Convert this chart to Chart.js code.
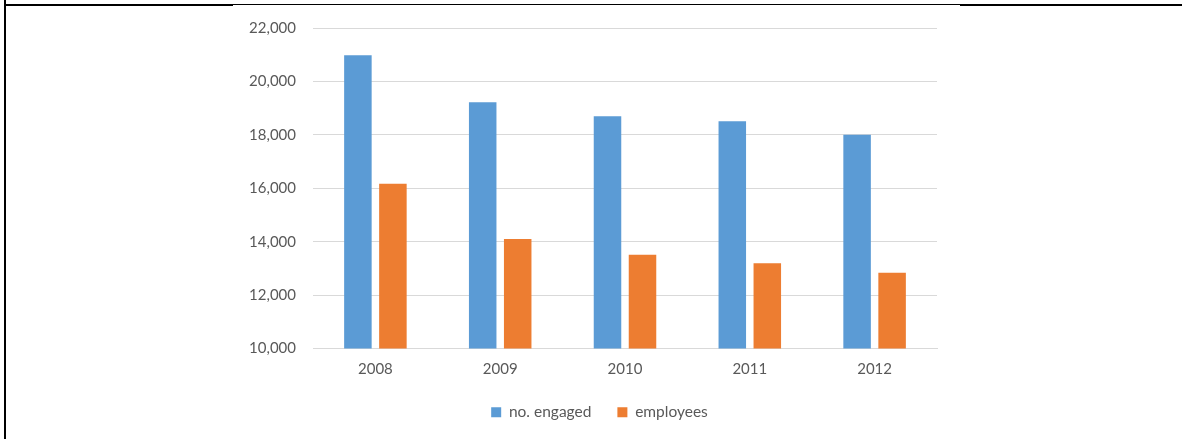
<!DOCTYPE html>
<html>
<head>
<meta charset="utf-8">
<script src="https://cdn.jsdelivr.net/npm/chart.js@4"></script>
<style>
  html, body { margin: 0; padding: 0; background: #fff; }
  #wrap { position: relative; width: 1182px; height: 439px; }
  .rule { position: absolute; background: #000; }
</style>
</head>
<body>
<div id="wrap">
  <canvas id="workChart" width="1182" height="439"></canvas>
  <div class="rule" style="left:4px;top:0;width:2px;height:439px"></div>
  <div class="rule" style="left:4px;top:4px;width:229px;height:2px"></div>
  <div class="rule" style="left:233px;top:4px;width:727px;height:1px"></div>
  <div class="rule" style="left:960px;top:4px;width:222px;height:2px"></div>
</div>
<script>
const years = ['2008', '2009', '2010', '2011', '2012'];
const engaged = [20980, 19220, 18700, 18510, 18000];
const employees = [16170, 14100, 13510, 13190, 12840];

const textColor = '#595959';
const gridColor = '#d9d9d9';
const font = { family: 'Lato', size: 15 };

new Chart(document.getElementById('workChart'), {
    type: 'bar',
    data: {
        labels: years,
        datasets: [{
            label: 'no. engaged',
            data: engaged,
            backgroundColor: '#5b9bd5',
            borderWidth: 0
        }, {
            label: 'employees',
            data: employees,
            backgroundColor: '#ed7d31',
            borderWidth: 0
        }]
    },
    options: {
        responsive: false,
        animation: false,
        layout: { padding: { left: 233, right: 216, top: 28, bottom: 9 } },
        categoryPercentage: 0.561,
        barPercentage: 0.786,
        plugins: {
            legend: {
                position: 'bottom',
                labels: {
                    color: textColor,
                    font: { family: 'Lato', size: 15.5 },
                    boxWidth: 10,
                    boxHeight: 10,
                    padding: 26
                }
            },
            tooltip: { enabled: false }
        },
        scales: {
            x: {
                grid: { display: false, drawTicks: false },
                border: { color: gridColor },
                ticks: { color: textColor, font: font, padding: 12 },
                afterFit: s => { s.height = 30; }
            },
            y: {
                min: 10000,
                max: 22000,
                grid: { color: gridColor, drawTicks: false },
                border: { display: false },
                ticks: {
                    stepSize: 2000,
                    color: textColor,
                    font: font,
                    padding: 17,
                    callback: v => v.toLocaleString('en-US')
                },
                afterFit: s => { s.width = 80; }
            },
            // empty axis that keeps space on the right of the plot
            spacer: {
                position: 'right',
                grid: { display: false },
                border: { display: false },
                ticks: { display: false },
                afterFit: s => { s.width = 29; }
            }
        }
    }
});
</script>
</body>
</html>
